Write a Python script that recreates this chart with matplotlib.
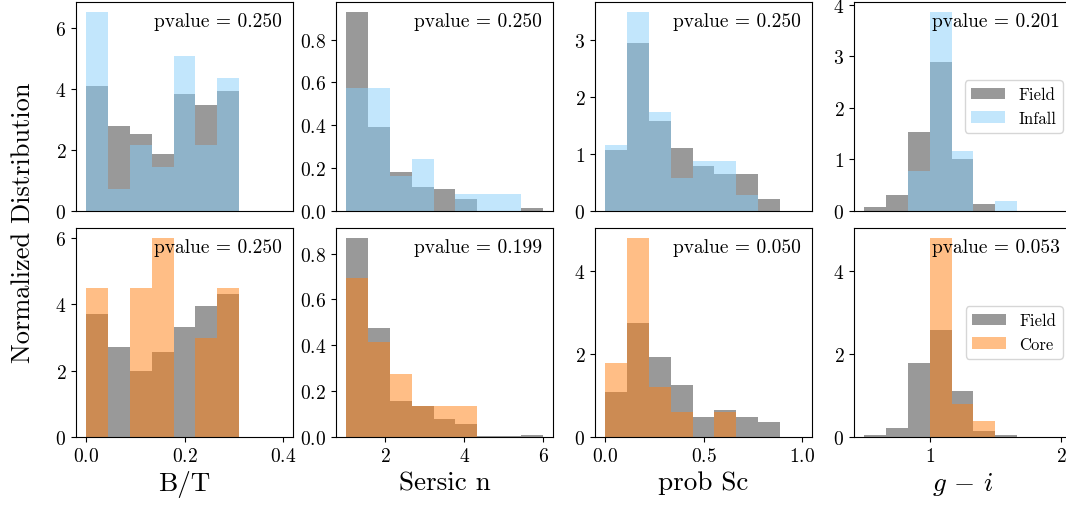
import numpy as np
import matplotlib
matplotlib.use("Agg")
import matplotlib.pyplot as plt

plt.rcParams['font.family'] = 'serif'
plt.rcParams['font.serif'] = ['cmr10']
plt.rcParams['mathtext.fontset'] = 'cm'
plt.rcParams['axes.formatter.use_mathtext'] = True

# ---- data (normalized histogram heights, 9 bins per variable) ----
bt_range = (0.0, 0.4)
sersic_range = (1.0, 6.0)
probsc_range = (0.0, 1.0)
gi_range = (0.5, 2.0)

bt_field_top = [4.09, 2.78, 2.51, 1.86, 3.83, 3.48, 3.95, 0, 0]
bt_infall = [6.53, 0.72, 2.17, 1.45, 5.07, 2.17, 4.35, 0, 0]
sersic_field_top = [0.929, 0.393, 0.180, 0.112, 0.1025, 0.057, 0, 0, 0.012]
sersic_infall = [0.572, 0.572, 0.165, 0.244, 0, 0.081, 0.081, 0.081, 0]
probsc_field_top = [1.066, 2.948, 1.573, 1.101, 0.792, 0.652, 0.647, 0.210, 0]
probsc_infall = [1.153, 3.483, 1.736, 0.577, 0.868, 0.868, 0.280, 0, 0]
gi_field_top = [0.084, 0.303, 1.523, 2.897, 1.006, 0.135, 0, 0, 0]
gi_infall = [0, 0, 0.768, 3.858, 1.155, 0, 0.194, 0, 0]

bt_field_bot = [3.702, 2.699, 1.997, 2.548, 3.301, 3.943, 4.294, 0, 0]
bt_core = [4.495, 0, 4.495, 5.99, 0, 2.99, 4.495, 0, 0]
sersic_field_bot = [0.868, 0.476, 0.159, 0.134, 0.080, 0.058, 0.004, 0.004, 0.009]
sersic_core = [0.692, 0.415, 0.275, 0.134, 0.134, 0.134, 0, 0, 0]
probsc_field_bot = [1.078, 2.744, 1.924, 1.247, 0.475, 0.652, 0.491, 0.370, 0]
probsc_core = [1.795, 4.805, 1.199, 0.604, 0, 0.596, 0, 0, 0]
gi_field_bot = [0.056, 0.217, 1.795, 2.575, 1.111, 0.153, 0.040, 0, 0]
gi_core = [0, 0, 0, 4.805, 0.797, 0.394, 0, 0, 0]

pvalues_top = ["0.250", "0.250", "0.250", "0.201"]
pvalues_bot = ["0.250", "0.199", "0.050", "0.053"]
xlabels = ["B/T", "Sersic n", "prob Sc", r"$g\,-\,i$"]
ylabel = "Normalized Distribution"
yticks_top = [[0, 2, 4, 6], [0.0, 0.2, 0.4, 0.6, 0.8], [0, 1, 2, 3], [0, 1, 2, 3, 4]]
yticks_bot = [[0, 2, 4, 6], [0.0, 0.2, 0.4, 0.6, 0.8], [0, 2, 4], [0, 2, 4]]
xticks = [[0.0, 0.2, 0.4], [2, 4, 6], [0.0, 0.5, 1.0], [1, 2]]

ranges = [bt_range, sersic_range, probsc_range, gi_range]
field_top = [bt_field_top, sersic_field_top, probsc_field_top, gi_field_top]
infall = [bt_infall, sersic_infall, probsc_infall, gi_infall]
field_bot = [bt_field_bot, sersic_field_bot, probsc_field_bot, gi_field_bot]
core = [bt_core, sersic_core, probsc_core, gi_core]

W, H = 1066, 506
fig = plt.figure(figsize=(W / 100, H / 100), dpi=100)

lefts = [76, 336, 595, 854]
aw = 217
rows = [(3, 212), (229, 438)]

GRAY = dict(color='gray', alpha=0.8)
BLUE = dict(color='lightskyblue', alpha=0.5)
ORANGE = dict(color='C1', alpha=0.5)

for r, (ytop, ybot) in enumerate(rows):
    for c in range(4):
        ax = fig.add_axes([lefts[c] / W, 1 - ybot / H, aw / W, (ybot - ytop) / H])
        edges = np.linspace(ranges[c][0], ranges[c][1], 10)
        centers = 0.5 * (edges[:-1] + edges[1:])
        if r == 0:
            f, o, lab, sty = field_top[c], infall[c], "Infall", BLUE
            pv = pvalues_top[c]
        else:
            f, o, lab, sty = field_bot[c], core[c], "Core", ORANGE
            pv = pvalues_bot[c]
        ax.hist(centers, bins=edges, weights=f, label="Field", **GRAY)
        ax.hist(centers, bins=edges, weights=o, label=lab, **sty)
        ax.set_yticks(yticks_top[c] if r == 0 else yticks_bot[c])
        ax.tick_params(labelsize=14)
        if r == 0:
            ax.set_xticks([])
        else:
            ax.set_xticks(xticks[c])
            ax.set_xlabel(xlabels[c], fontsize=19.5)
        ax.text(0.95, 0.95, "pvalue = " + pv, transform=ax.transAxes,
                ha='right', va='top', fontsize=14)
        if c == 3:
            ax.legend(loc='center right', fontsize=12)

fig.text(0.022, 0.56, ylabel, rotation=90, va='center', ha='center', fontsize=19)

fig.savefig("out.png", dpi=100)
